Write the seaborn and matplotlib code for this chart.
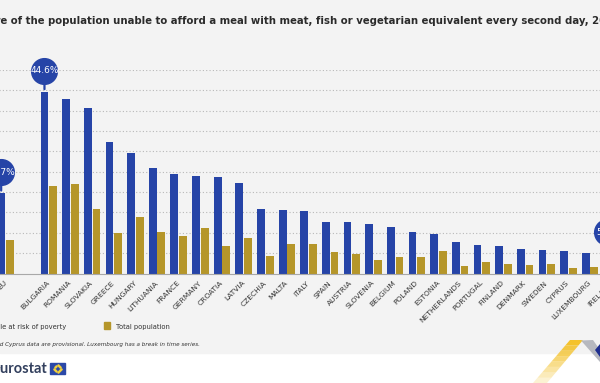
import pandas as pd
import numpy as np
import matplotlib.pyplot as plt
import seaborn as sns
from matplotlib.patches import Rectangle, Polygon
from matplotlib.transforms import offset_copy

# данные
countries = ['EU', 'Bulgaria', 'Romania', 'Slovakia', 'Greece', 'Hungary', 'Lithuania',
             'France', 'Germany', 'Croatia', 'Latvia', 'Czechia', 'Malta', 'Italy', 'Spain',
             'Austria', 'Slovenia', 'Belgium', 'Poland', 'Estonia', 'Netherlands', 'Portugal',
             'Finland', 'Denmark', 'Sweden', 'Cyprus', 'Luxembourg', 'Ireland']
at_risk = [19.7, 44.6, 42.9, 40.6, 32.3, 29.6, 26.0, 24.4, 24.0, 23.6, 22.2, 15.9, 15.6, 15.4,
           12.7, 12.6, 12.2, 11.4, 10.1, 9.7, 7.8, 7.1, 6.8, 6.0, 5.7, 5.5, 5.1, 5.0]
total = [8.3, 21.6, 22.1, 15.8, 9.9, 13.9, 10.3, 9.3, 11.3, 6.8, 8.6, 4.2, 7.3, 7.3,
         5.3, 4.8, 3.3, 4.0, 4.0, 5.5, 1.9, 2.9, 2.4, 2.1, 2.3, 1.4, 1.7, 1.5]
series = ['People at risk of poverty', 'Total population']
bubbles = {'EU': '19.7%', 'Bulgaria': '44.6%', 'Ireland': '5.0%'}

title = ('Share of the population unable to afford a meal with meat, fish or vegetarian '
         'equivalent every second day, 2022')
note = 'Ireland and Cyprus data are provisional. Luxembourg has a break in time series.'

BLUE = '#2644A7'
GOLD = '#B5962A'
NARROW = ['Liberation Sans Narrow', 'DejaVu Sans']

df = pd.DataFrame({
    'country': countries * 2,
    'series': [series[0]] * len(countries) + [series[1]] * len(countries),
    'value': at_risk + total,
})
# пустое место между EU и странами
order = ['EU', ' '] + countries[1:]

W, H = 600, 383
fig = plt.figure(figsize=(6, 3.83), dpi=100)
fig.patch.set_facecolor('white')
fig.add_artist(Rectangle((0, 1 - 353 / H), 1, 353 / H, transform=fig.transFigure,
                         color='#f3f3f3', zorder=-5))

# оси шире картинки: картинка - обрезанный кусок графика
x0, x1 = -0.6, len(order) - 0.4
step = 21.65
left_px = 5.5 + x0 * step
ax = fig.add_axes([left_px / W, 1 - 273.5 / H, (x1 - x0) * step / W, (273.5 - 70) / H])
ax.set_facecolor('none')

sns.barplot(data=df, x='country', y='value', hue='series', order=order, hue_order=series,
            palette=[BLUE, GOLD], saturation=1, width=0.8, gap=0.1, legend=False, ax=ax)

ax.set_xlim(x0, x1)
ax.set_ylim(0, 50)
ax.set_yticks(range(5, 55, 5))
ax.grid(axis='y', linestyle=(0, (1, 2)), color='#b8b8b8', lw=0.8)
ax.set_axisbelow(True)
ax.tick_params(axis='y', length=0, labelleft=False)
ax.tick_params(axis='x', length=0, pad=6)
for s in ['left', 'right', 'top']:
    ax.spines[s].set_visible(False)
ax.spines['bottom'].set_color('#a8a8a8')
ax.set_xlabel('')
ax.set_ylabel('')
ax.set_xticks(range(len(order)))
ax.set_xticklabels([c.upper() for c in order], rotation=45, ha='right', va='center',
                   rotation_mode='anchor', fontsize=5.4, family=NARROW, color='#333333')

# кружки с подписями
for name, lab in bubbles.items():
    i = order.index(name) - 0.2
    val = df[(df.country == name) & (df.series == series[0])].value.iloc[0]
    ax.annotate('', xy=(i, val), xytext=(0, 21), textcoords='offset pixels',
                arrowprops=dict(arrowstyle='-', color=BLUE, lw=1.6), annotation_clip=False)
    tr = offset_copy(ax.transData, fig=fig, x=0, y=21, units='dots')
    ax.plot(i, val, 'o', ms=18.5, color=BLUE, transform=tr, clip_on=False, zorder=6)
    ax.text(i, val, lab, transform=tr, ha='center', va='center', color='white',
            fontsize=6.5, family=NARROW, clip_on=False, zorder=7)

renderer = fig.canvas.get_renderer()


def fit_size(s, width, **kw):
    t = fig.text(0, 0, s, fontsize=10, **kw)
    w = t.get_window_extent(renderer=renderer).width
    t.remove()
    return 10 * width / w


def cut_text(px, py, full, hidden, size, **kw):
    # текст, у которого начало уходит за левый край
    t = fig.text(0, 0, hidden, fontsize=size, **kw)
    hw = t.get_window_extent(renderer=renderer).width
    t.remove()
    fig.text((px - hw) / W, 1 - py / H, full, fontsize=size, va='baseline', **kw)


tkw = dict(weight='bold', family=NARROW, color='#2b2b2b')
cut_text(0, 24.5, title, 'Shar', fit_size(title[4:], 620, **tkw), **tkw)

# легенда
lkw = dict(family=NARROW, color='#333333')
lsize = fit_size(series[1], 54, **lkw)
fig.add_artist(Rectangle((-24 / W, 1 - 328 / H), 6 / W, 6 / H, transform=fig.transFigure,
                         color=BLUE))
cut_text(0, 329, series[0], 'Peop', lsize, **lkw)
fig.add_artist(Rectangle((104 / W, 1 - 328.5 / H), 6 / W, 6.5 / H, transform=fig.transFigure,
                         color=GOLD))
fig.text(116 / W, 1 - 329 / H, series[1], fontsize=lsize, va='baseline', **lkw)

nkw = dict(family=NARROW, style='italic', color='#333333')
cut_text(0, 346, note, 'Ireland an', fit_size(note[10:], 200, **nkw), **nkw)

# логотип
cut_text(0, 373, 'eurostat', 'e', 10.5, weight='bold', family=['Lato', 'DejaVu Sans'],
         color='#33405e')
fig.add_artist(Rectangle((50 / W, 1 - 374 / H), 15 / W, 11 / H, transform=fig.transFigure,
                         color='#2b49a8'))
ang = np.linspace(0, 2 * np.pi, 12, endpoint=False)
fig.add_artist(plt.Line2D((57.5 + 3.3 * np.cos(ang)) / W, 1 - (368.5 + 3.3 * np.sin(ang)) / H,
                          ls='none', marker='o', ms=0.8, color='#f5d23a',
                          transform=fig.transFigure))


# уголок справа внизу
def px_poly(pts, **kw):
    fig.add_artist(Polygon([(x / W, 1 - y / H) for x, y in pts], closed=True,
                           transform=fig.transFigure, lw=0, **kw))


n = 8
for k in range(n):
    a, b = k / n, (k + 1) / n
    ya, yb = 340 + 43 * a, 340 + 43 * b
    xl = lambda t: 570 - 37 * t
    xr = lambda t: 583 - 36 * t
    px_poly([(xl(a), ya), (xr(a), ya), (xr(b), yb), (xl(b), yb)],
            color='#f4c22b', alpha=1 - 0.9 * a)
px_poly([(581, 340.5), (593, 340), (600, 350), (600, 362)], color='#b6b8bf')
px_poly([(595, 350), (600, 344), (600, 357)], color='#1f2f8f')

fig.savefig('out.png', dpi=100)
